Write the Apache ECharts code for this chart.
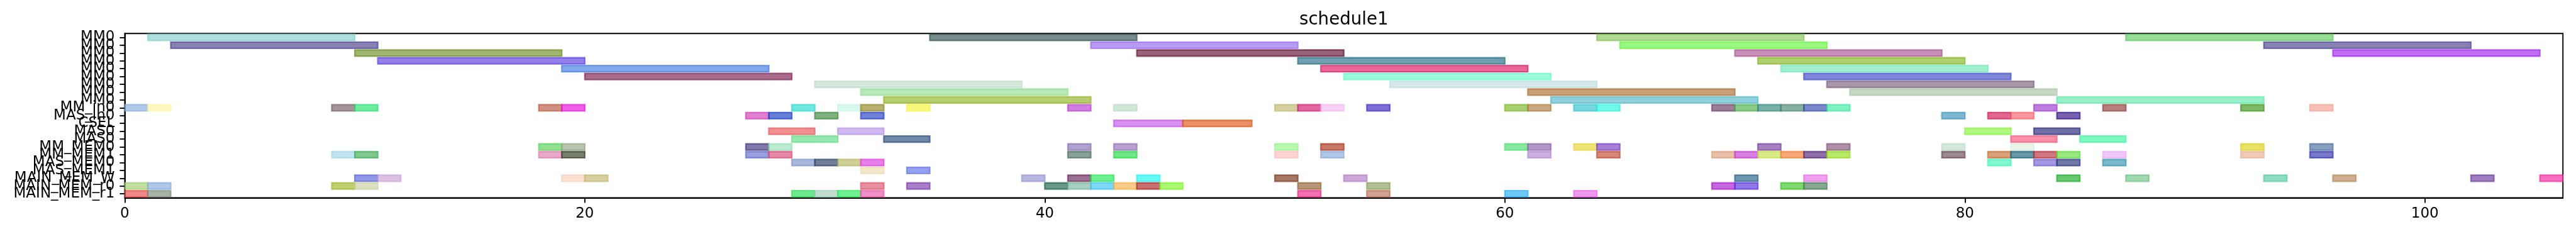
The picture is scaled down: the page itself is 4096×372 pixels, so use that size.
<!DOCTYPE html>
<html><head><meta charset="utf-8">
<script src="https://cdn.jsdelivr.net/npm/echarts@6/dist/echarts.min.js"></script>
<style>html,body{margin:0;padding:0;background:#fff}#c{width:4096px;height:372px}</style>
</head><body><div id="c"></div>
<script>
const categories = ['MM0','MM0','MM0','MM0','MM0','MM0','MM0','MM0','MM0','MM_in0','MAS_in0','CSEL','MAS0','MAS0','MM_MEM0','MM_MEM1','MAS_MEM0','MAS_MEM1','MAIN_MEM_W','MAIN_MEM_r0','MAIN_MEM_r1'];
const xTicks = [0,20,40,60,80,100];
const xMax = 106;

// [start, end] of each task, one list per row (top to bottom)
const spans = [
  [[1,10],[35,44],[64,73],[87,96]],
  [[2,11],[42,51],[65,74],[93,102]],
  [[10,19],[44,53],[70,79],[96,105]],
  [[11,20],[51,60],[71,80]],
  [[19,28],[52,61],[72,81]],
  [[20,29],[53,62],[73,82]],
  [[30,39],[55,64],[74,83]],
  [[32,41],[61,70],[75,84]],
  [[33,42],[62,71],[84,93]],
  [[0,1],[1,2],[9,10],[10,11],[18,19],[19,20],[29,30],[31,32],[32,33],[34,35],[41,42],[43,44],[50,51],[51,52],[52,53],[54,55],[60,61],[61,62],[63,64],[64,65],[69,70],[70,71],[71,72],[72,73],[73,74],[74,75],[83,84],[86,87],[92,93],[95,96]],
  [[27,28],[28,29],[30,31],[32,33],[79,80],[81,82],[82,83],[84,85]],
  [[43,46],[46,49]],
  [[28,30],[31,33],[80,82],[83,85]],
  [[29,31],[33,35],[82,84],[85,87]],
  [[18,19],[19,20],[27,28],[28,29],[41,42],[43,44],[50,51],[52,53],[60,61],[61,62],[63,64],[64,65],[71,72],[74,75],[79,80],[82,83],[92,93],[95,96]],
  [[9,10],[10,11],[18,19],[19,20],[27,28],[28,29],[41,42],[43,44],[50,51],[52,53],[61,62],[64,65],[69,70],[70,71],[71,72],[72,73],[73,74],[74,75],[79,80],[81,82],[82,83],[83,84],[84,85],[86,87],[92,93],[95,96]],
  [[29,30],[30,31],[31,32],[32,33],[81,82],[83,84],[84,85],[86,87]],
  [[32,33],[34,35]],
  [[10,11],[11,12],[19,20],[20,21],[39,40],[41,42],[42,43],[44,45],[50,51],[53,54],[70,71],[73,74],[84,85],[87,88],[93,94],[96,97],[102,103],[105,106]],
  [[0,1],[1,2],[9,10],[10,11],[32,33],[34,35],[40,41],[41,42],[42,43],[43,44],[44,45],[45,46],[51,52],[54,55],[69,70],[70,71],[72,73],[73,74]],
  [[0,1],[1,2],[29,30],[30,31],[31,32],[32,33],[51,52],[54,55],[60,61],[63,64]]
];

// colour of each task (style), parallel to spans
const spanColors = [
  ['#85cfc9','#2f4f4f','#85c354','#60c960'],
  ['#483d8b','#9266f0','#61f43b','#483d8b'],
  ['#6b8e23','#601030','#aa5492','#a020f0'],
  ['#5a3ce0','#236d85','#85b623'],
  ['#3c7ae0','#db1760','#6de8b7'],
  ['#791d4e','#66f8c8','#3b48c3'],
  ['#bddcc9','#bddcdc','#796079'],
  ['#92db92','#aa6d2f','#aac3a4'],
  ['#92b023','#54b7c9','#60e8aa'],
  ['#85aadb','#fff49e','#745c62','#23e16d','#b7543b','#e80adb','#23dbcf','#c3f4e8','#928523','#f4f43b','#b73bcf','#b7dbc3','#bdb76b','#cf176d','#f4b7f4','#3b23c3','#79b723','#aa793b','#2fc3cf','#23f4db','#673b60','#48b048','#2f8579','#48856d','#2f48aa','#3be89e','#9e3bcf','#923b3b','#3b9216','#f49e92'],
  ['#cf3bb7','#173bc3','#3b853b','#233bc3','#3b92b7','#cf1754','#f4606d','#2f0a85'],
  ['#c354e8','#db5416'],
  ['#e85454','#b792e8','#85f43b','#232379'],
  ['#60db85','#234879','#f45479','#3bf49e'],
  ['#54cf54','#92a485','#3b2f79','#92e1b7','#856db7','#926db7','#92f485','#aa2f16','#48db6d','#8b60aa','#e8d52f','#793bc3','#793b9e','#855479','#bddcc9','#dbeedb','#dbcf16','#486d9e'],
  ['#9ed5e8','#3baa54','#db79aa','#323b23','#606dc9','#db4879','#486d60','#23db48','#fabdbd','#85aadb','#b085cf','#c3482f','#db9e79','#c33bcf','#c3e148','#f4792f','#542379','#92db16','#674854','#c36d2f','#176079','#b72f3b','#60db3b','#e8aaf4','#e8b092','#2f2faa'],
  ['#7992c9','#233b60','#b7b760','#db3bdb','#3bf4b7','#6d60cf','#232f79','#2f92aa'],
  ['#e8dbaa','#606de8'],
  ['#5460db','#c99ed5','#f7cfb7','#c3b76d','#9292cf','#672354','#23e854','#17f4f4','#792f16','#b079c3','#236085','#e86de8','#17aa23','#6dc385','#54c99e','#b78554','#6d3b9e','#f4239e'],
  ['#a1cf6d','#85aadb','#9eb723','#cbcf9e','#db546d','#793baa','#176048','#79b79e','#3bc3f4','#f4b048','#aa2323','#79f423','#92602f','#859e54','#aa17cf','#542fdb','#3bc323','#487954'],
  ['#e84848','#798b79','#23db54','#9ecbb7','#23e854','#e854aa','#e82385','#b76d54','#23aaf4','#e860e8']
];

const ALPHA = 0.65;
function rgba(hex, a) {
  const n = parseInt(hex.slice(1), 16);
  return 'rgba(' + ((n >> 16) & 255) + ',' + ((n >> 8) & 255) + ',' + (n & 255) + ',' + a + ')';
}

const data = [];
spans.forEach((row, r) => {
  row.forEach((sp, i) => {
    data.push({ value: [sp[0], sp[1], r], itemStyle: { color: spanColors[r][i] } });
  });
});

const FONT = 'DejaVu Sans';
const gridL = 198.4, gridR = 20.8, gridT = 53.2, gridB = 57.6;

const chart = echarts.init(document.getElementById('c'), null, { renderer: 'canvas' });
chart.setOption({
  animation: false,
  backgroundColor: '#fff',
  title: {
    text: 'schedule1',
    left: gridL + (4096 - gridL - gridR) / 2,
    top: 18,
    padding: 0,
    textAlign: 'center',
    textStyle: { fontFamily: FONT, fontSize: 27.7, fontWeight: 'normal', color: '#000' }
  },
  grid: { left: gridL, right: gridR, top: gridT, bottom: gridB, show: true, borderColor: '#000', borderWidth: 1.85, backgroundColor: 'transparent' },
  xAxis: {
    type: 'value', min: 0, max: xMax,
    axisLine: { show: true, onZero: false, lineStyle: { color: '#000', width: 1.85 } },
    axisTick: { show: true, length: 8, customValues: xTicks, lineStyle: { color: '#000', width: 1.85 } },
    axisLabel: { customValues: xTicks, margin: 14, fontSize: 23, fontFamily: FONT, color: '#000' },
    splitLine: { show: false }
  },
  yAxis: {
    type: 'category', data: categories, inverse: true,
    axisLine: { show: true, lineStyle: { color: '#000', width: 1.85 } },
    axisTick: { show: true, alignWithLabel: true, interval: 0, length: 8, lineStyle: { color: '#000', width: 1.85 } },
    axisLabel: { interval: 0, margin: 16, fontSize: 23, fontFamily: FONT, color: '#000', hideOverlap: false },
    splitLine: { show: false }
  },
  series: [{
    type: 'custom',
    clip: true,
    encode: { x: [0, 1], y: 2 },
    data: data,
    renderItem: function (params, api) {
      const r = api.value(2);
      const p0 = api.coord([api.value(0), r]);
      const p1 = api.coord([api.value(1), r]);
      const h = api.size([0, 1])[1] * 0.8;
      const c = api.visual('color');
      return {
        type: 'rect',
        shape: { x: p0[0], y: p0[1] - h / 2, width: p1[0] - p0[0], height: h },
        style: { fill: rgba(c, ALPHA), stroke: rgba(c, ALPHA), lineWidth: 2.3 }
      };
    }
  }]
});
</script>
</body></html>
